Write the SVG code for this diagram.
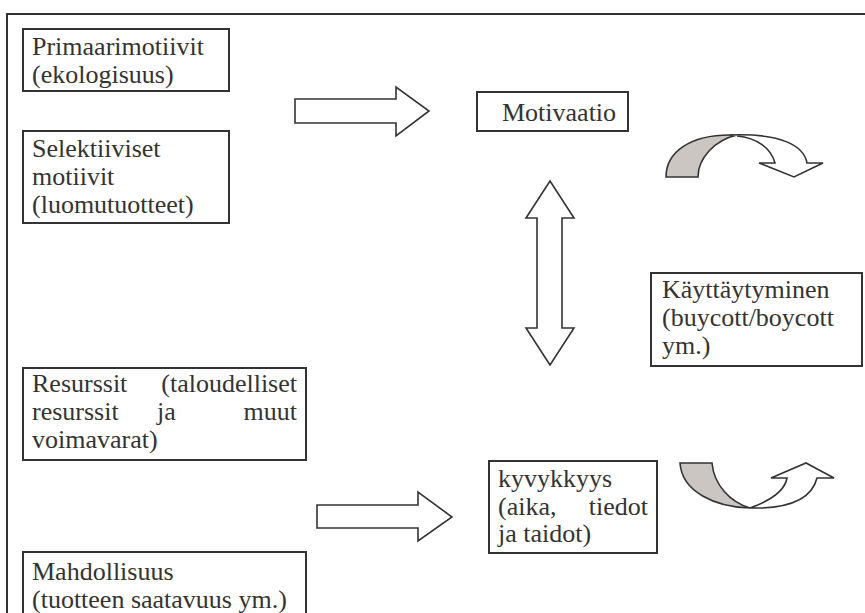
<svg xmlns="http://www.w3.org/2000/svg" width="865" height="613" viewBox="0 0 865 613">
  <style>
    .frame { fill: none; stroke: #333; stroke-width: 2; }
    .box { fill: #fff; stroke: #333; stroke-width: 2; }
    .arrow { fill: #fff; stroke: #333; stroke-width: 1.6; stroke-linejoin: miter; }
    .back { fill: #ccc6c3; stroke: #333; stroke-width: 1.6; }
    text { font-family: "Liberation Serif", "Times New Roman", serif; font-size: 26px; fill: #333; }
  </style>
  <rect width="865" height="613" fill="#fff"/>

  <!-- page frame (open to the right and bottom) -->
  <path class="frame" d="M7,613 L7,14 L865,14"/>

  <g id="primaarimotiivit">
    <rect class="box" x="23" y="29" width="206" height="62"/>
    <text x="32" y="55">Primaarimotiivit</text>
    <text x="32" y="83">(ekologisuus)</text>
  </g>

  <g id="selektiiviset">
    <rect class="box" x="23" y="131" width="206" height="92"/>
    <text x="32" y="157">Selektiiviset</text>
    <text x="32" y="185">motiivit</text>
    <text x="32" y="213">(luomutuotteet)</text>
  </g>

  <g id="motivaatio">
    <rect class="box" x="477" y="92" width="151" height="39"/>
    <text x="502" y="121">Motivaatio</text>
  </g>

  <g id="kayttaytyminen">
    <rect class="box" x="651" y="273" width="211" height="93"/>
    <text x="662" y="298">Käyttäytyminen</text>
    <text x="662" y="326">(buycott/boycott</text>
    <text x="662" y="354">ym.)</text>
  </g>

  <g id="resurssit">
    <rect class="box" x="23" y="368" width="283" height="92"/>
    <text x="32" y="392">Resurssit</text>
    <text x="297" y="392" text-anchor="end">(taloudelliset</text>
    <text x="32" y="420">resurssit</text>
    <text x="157" y="420">ja</text>
    <text x="297" y="420" text-anchor="end">muut</text>
    <text x="32" y="448">voimavarat)</text>
  </g>

  <g id="kyvykkyys">
    <rect class="box" x="489" y="461" width="168" height="92"/>
    <text x="498" y="487">kyvykkyys</text>
    <text x="498" y="515">(aika,</text>
    <text x="648" y="515" text-anchor="end">tiedot</text>
    <text x="498" y="542">ja taidot)</text>
  </g>

  <g id="mahdollisuus">
    <path class="box" d="M23,620 L23,552 L306,552 L306,620"/>
    <text x="32" y="580">Mahdollisuus</text>
    <text x="32" y="608">(tuotteen saatavuus ym.)</text>
  </g>

  <g id="connectors">
    <!-- block arrow into Motivaatio -->
    <path class="arrow" d="M295,99 L396,99 L396,87 L429,111 L396,136 L396,123 L295,123 Z"/>
    <!-- two-way arrow between Motivaatio and kyvykkyys -->
    <path class="arrow" d="M550,181 L574,218 L562,218 L562,328 L574,328 L550,365 L526,328 L537,328 L537,218 L526,218 Z"/>
    <!-- block arrow into kyvykkyys -->
    <path class="arrow" d="M317,505 L418,505 L418,492 L452,517 L418,541 L418,528 L317,528 Z"/>

    <!-- curved arrow, upper -->
    <path class="back" d="M666,177 C666,152 690,135 730,135 L737,135 C715,140 698,158 698,177 Z"/>
    <path class="arrow" d="M730,135 C782,133 804,146 807,163 L823,163 L794,177 L759,163 L775,163 C771,148 757,138 737,136"/>

    <!-- curved arrow, lower -->
    <path class="back" d="M680,463 L712,463 C714,485 730,502 750,508 C715,507 682,492 680,463 Z"/>
    <path class="arrow" d="M750,508 C772,500 785,490 787,478 L771,478 L806,463 L834,478 L817,478 C812,498 790,509 750,508 Z"/>
  </g>
</svg>
